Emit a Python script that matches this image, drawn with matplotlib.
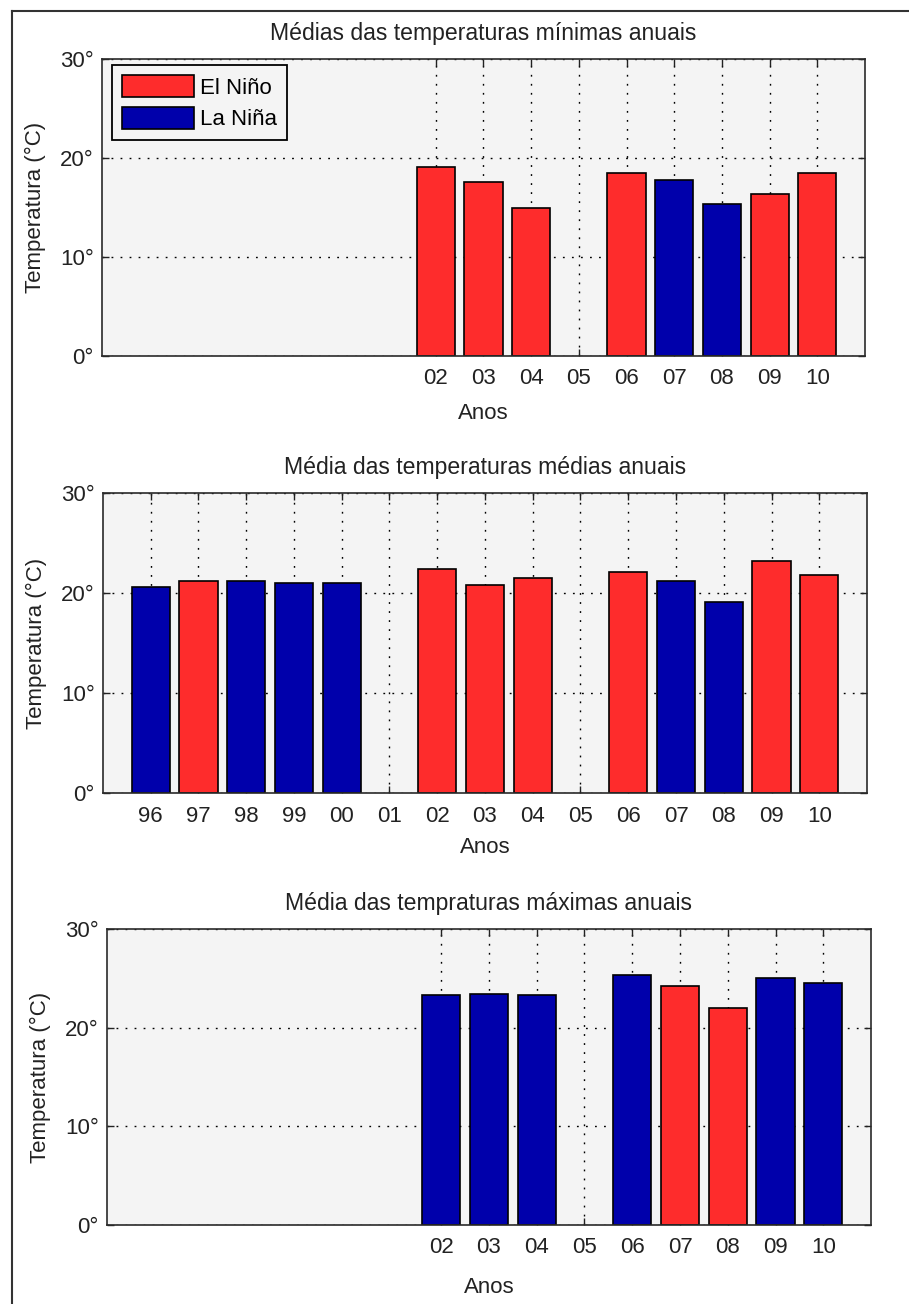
import numpy as np
from matplotlib import pyplot as plt
from matplotlib.lines import Line2D
from matplotlib.patches import Patch

plt.rcParams['font.family'] = ['Liberation Sans', 'DejaVu Sans']

# anos (rótulos do eixo x)
anos = ['96', '97', '98', '99', '00', '01', '02', '03', '04', '05',
        '06', '07', '08', '09', '10']
anos_curtos = anos[6:]  # 02 .. 10

# médias das temperaturas mínimas (02..10)
tmin = [19.1, 17.6, 14.9, np.nan, 18.5, 17.8, 15.3, 16.4, 18.5]
fase_min = ['E', 'E', 'E', None, 'E', 'L', 'L', 'E', 'E']

# médias das temperaturas médias (96..10)
tmed = [20.6, 21.2, 21.2, 21.0, 21.0, np.nan, 22.4, 20.8, 21.5, np.nan,
        22.1, 21.2, 19.1, 23.2, 21.8]
fase_med = ['L', 'E', 'L', 'L', 'L', None, 'E', 'E', 'E', None,
            'E', 'L', 'L', 'E', 'E']

# médias das temperaturas máximas (02..10)
tmax = [23.3, 23.4, 23.3, np.nan, 25.4, 24.2, 22.0, 25.1, 24.5]
fase_max = ['L', 'L', 'L', None, 'L', 'E', 'E', 'L', 'L']

cores = {'E': '#fe2c2c', 'L': '#0000ab'}
rotulos = {'E': 'El Niño', 'L': 'La Niña'}

FS = 16
fig = plt.figure(figsize=(9.09, 13.04), dpi=100)


def painel(rect, labels, valores, fases, titulo, xpad, legenda=False):
    ax = fig.add_axes(rect)
    x0 = anos.index(labels[0])
    xs = np.arange(x0, x0 + len(labels))
    for x, v, f in zip(xs, valores, fases):
        if f is None or np.isnan(v):
            continue
        ax.bar(x, v, width=0.8, color=cores[f], edgecolor='black', linewidth=1.2, zorder=2)
    ax.set_facecolor('#f4f4f4')
    ax.set_xlim(-1, 15)
    ax.set_ylim(0, 30)
    ax.set_xticks(xs)
    ax.set_xticklabels(labels)
    ax.set_yticks([0, 10, 20, 30])
    ax.set_yticklabels(['0°', '10°', '20°', '30°'])
    ax.tick_params(direction='in', top=True, right=True, length=5, width=1,
                   labelsize=FS, colors='#222222')
    ax.tick_params(axis='x', pad=9)
    ax.tick_params(axis='y', pad=6)
    ax.grid(True, color='black', linestyle=(0, (1.3, 5.2)), linewidth=1)
    ax.set_axisbelow(True)
    for s in ax.spines.values():
        s.set_color('#2a2a2a')
        s.set_linewidth(1.2)
    ax.set_title(titulo, fontsize=16.6, pad=13.5, color='#222222')
    ax.set_xlabel('Anos', fontsize=FS, labelpad=xpad, color='#222222')
    ax.set_ylabel('Temperatura (°C)', fontsize=FS, labelpad=10, color='#222222')
    if legenda:
        handles = [Patch(facecolor=cores[k], edgecolor='black', linewidth=1.2, label=rotulos[k])
                   for k in ('E', 'L')]
        leg = ax.legend(handles=handles, loc='upper left', bbox_to_anchor=(0.0131, 0.980),
                        borderaxespad=0, fontsize=FS, handlelength=3.25, handleheight=1.17,
                        handletextpad=0.27, labelspacing=0.36, borderpad=0.45,
                        fancybox=False, framealpha=1, facecolor='#f4f4f4', edgecolor='black')
        leg.get_frame().set_linewidth(1.3)
    return ax


painel([0.1122, 0.7272, 0.8394, 0.2275], anos_curtos, tmin, fase_min,
       'Médias das temperaturas mínimas anuais', 10, legenda=True)
painel([0.1133, 0.3916, 0.8405, 0.2305], anos, tmed, fase_med,
       'Média das temperaturas médias anuais', 7)
painel([0.1177, 0.0606, 0.8405, 0.2268], anos_curtos, tmax, fase_max,
       'Média das tempraturas máximas anuais', 13)

# moldura (borda esquerda e superior da imagem)
bx = 12 / 909
by = 1 - 11 / 1304
fig.add_artist(Line2D([bx, bx], [0, by], transform=fig.transFigure, color='#333333', lw=1.5))
fig.add_artist(Line2D([bx, 1], [by, by], transform=fig.transFigure, color='#333333', lw=1.5))

fig.savefig('out.png', dpi=100)
